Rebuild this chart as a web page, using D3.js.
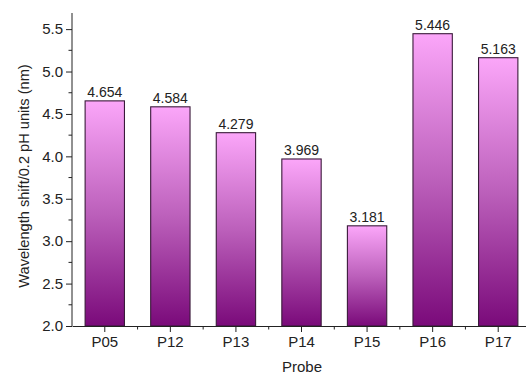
<!DOCTYPE html>
<html>
<head>
<meta charset="utf-8">
<script src="https://cdn.jsdelivr.net/npm/d3@7"></script>
<style>
  html, body { margin: 0; padding: 0; background: #fff; }
  svg { display: block; font-family: Arial, "Liberation Sans", sans-serif; }
</style>
</head>
<body>
<svg id="chart" width="526" height="375"></svg>
<script>
// Wavelength shift per 0.2 pH units for each probe
const probes = ["P05", "P12", "P13", "P14", "P15", "P16", "P17"];
const shifts = [4.654, 4.584, 4.279, 3.969, 3.181, 5.446, 5.163];
const yTicks = [2.0, 2.5, 3.0, 3.5, 4.0, 4.5, 5.0, 5.5];

const svg = d3.select("#chart");
const plotLeft = 72, plotRight = 531, plotTop = 13, plotBottom = 326;
const ink = "#222";

const x = d3.scaleBand().domain(probes).range([plotLeft, plotRight])
  .paddingInner(0.4).paddingOuter(0.2);
const y = d3.scaleLinear().domain([2.0, 5.69]).range([plotBottom, plotTop]);

// Vertical gradient per bar: light pink at top, deep purple at base
const defs = svg.append("defs");
const grad = defs.append("linearGradient")
  .attr("id", "barFill").attr("x1", 0).attr("y1", 0).attr("x2", 0).attr("y2", 1);
grad.append("stop").attr("offset", "0%").attr("stop-color", "#fba6f9");
grad.append("stop").attr("offset", "50%").attr("stop-color", "#bc60bb");
grad.append("stop").attr("offset", "100%").attr("stop-color", "#7a0a7a");

svg.append("g").selectAll("rect")
  .data(probes)
  .join("rect")
  .attr("x", d => x(d))
  .attr("width", x.bandwidth())
  .attr("y", (d, i) => y(shifts[i]))
  .attr("height", (d, i) => y(2.0) - y(shifts[i]))
  .attr("fill", "url(#barFill)")
  .attr("stroke", "#3a1a3a")
  .attr("stroke-width", 1.1);

// Value labels above bars
svg.append("g").selectAll("text")
  .data(probes)
  .join("text")
  .attr("x", d => x(d) + x.bandwidth() / 2)
  .attr("y", (d, i) => y(shifts[i]) - 4)
  .attr("text-anchor", "middle")
  .attr("font-size", 14)
  .attr("fill", ink)
  .text((d, i) => shifts[i].toFixed(3));

// Y axis with minor ticks
const yAxis = d3.axisLeft(y).tickValues(yTicks).tickFormat(d3.format(".1f")).tickSize(6).tickPadding(3);
const gy = svg.append("g").attr("transform", `translate(${plotLeft},0)`).call(yAxis);
gy.select(".domain").attr("d", `M0,${plotTop}V${plotBottom}`).attr("stroke", ink);
gy.selectAll("text").attr("font-size", 15).attr("fill", ink);
gy.selectAll("line").attr("stroke", ink);
const yMinor = d3.range(2.25, 5.7, 0.5);
gy.append("g").selectAll("line").data(yMinor).join("line")
  .attr("x1", 0).attr("x2", -3.5).attr("y1", d => y(d)).attr("y2", d => y(d))
  .attr("stroke", ink);

// X axis with minor ticks between categories
const xAxis = d3.axisBottom(x).tickSize(6).tickPadding(4.5).tickSizeOuter(0);
const gx = svg.append("g").attr("transform", `translate(0,${plotBottom})`).call(xAxis);
gx.select(".domain").attr("stroke", ink);
gx.selectAll("line").attr("stroke", ink);
gx.selectAll("text").attr("font-size", 15).attr("fill", ink);
const step = x.step();
const xMinor = d3.range(1, probes.length).map(i => plotLeft + i * step);
gx.append("g").selectAll("line").data(xMinor).join("line")
  .attr("x1", d => d).attr("x2", d => d).attr("y1", 0).attr("y2", 3.5)
  .attr("stroke", ink);

// Axis titles
svg.append("text")
  .attr("x", 302).attr("y", 372)
  .attr("text-anchor", "middle").attr("font-size", 15).attr("fill", ink)
  .text("Probe");
svg.append("text")
  .attr("transform", `translate(29,176) rotate(-90)`)
  .attr("text-anchor", "middle").attr("font-size", 14.6).attr("fill", ink)
  .text("Wavelength shift/0.2 pH units (nm)");
</script>
</body>
</html>
